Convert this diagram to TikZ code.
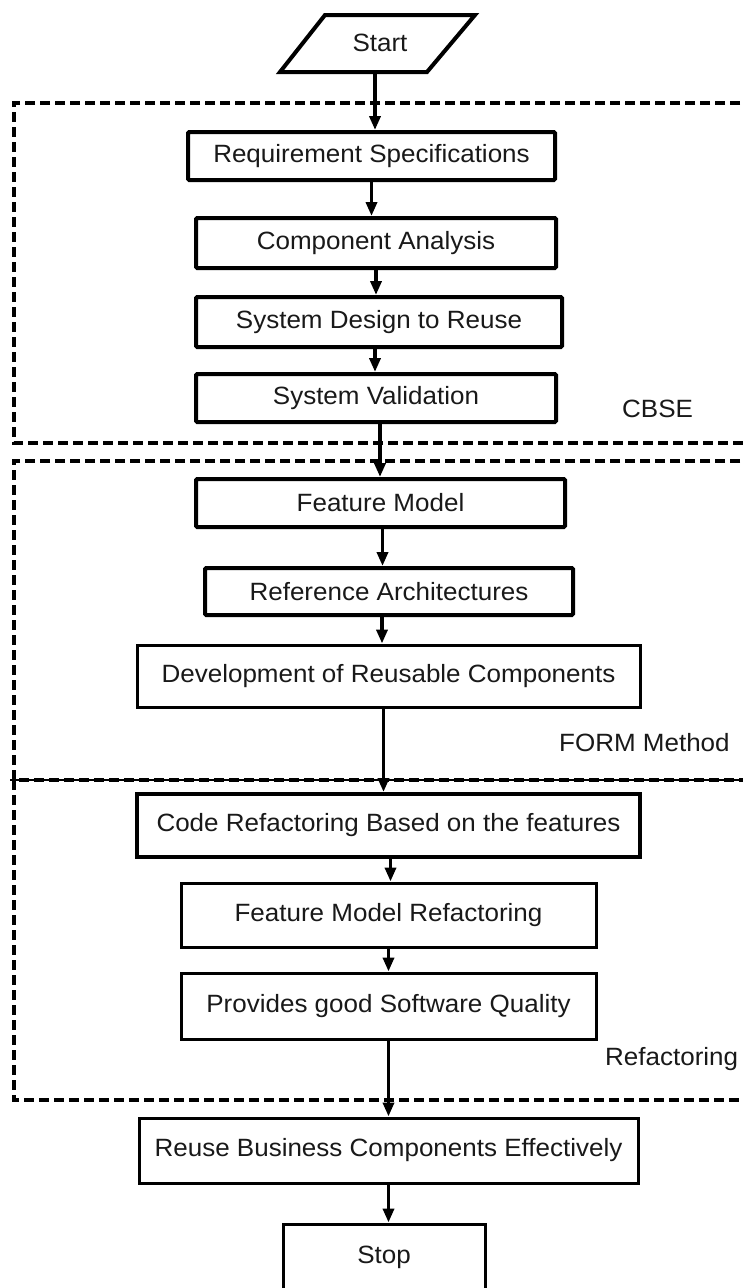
\documentclass[tikz,border=0pt]{standalone}
\usepackage{fontspec}
\setmainfont{Liberation Sans}[FakeStretch=1.04]
\usetikzlibrary{arrows.meta}
\begin{document}
\begin{tikzpicture}[x=1pt,y=-1pt,
  txt/.style={font=\fontsize{25}{29}\selectfont, text=black!90},
  box/.style={draw, line width=3pt, inner sep=0pt, txt},
  hbox/.style={box, line width=4pt, rounded corners=1.2pt},
  arr/.style={line width=3.5pt, -{Triangle[length=14pt,width=11pt]}},
  dashline/.style={line width=3.5pt, dash pattern=on 10pt off 5pt},
  lbl/.style={txt, anchor=west, inner sep=0pt}]
\useasboundingbox (0,0) rectangle (742,1288);

% dashed regions
\draw[dashline] (770,103) -- (14,103) -- (14,443) -- (770,443);
\draw[dashline] (770,461) -- (14,461) -- (14,780) -- (770,780);
\draw[line width=2pt] (10,780) -- (770,780);
\draw[dashline] (14,780) -- (14,1100) -- (770,1100);

% start
\draw[line width=4pt, line join=miter] (280,72) -- (427,72) -- (475,15) -- (325,15) -- cycle;
\node[txt] (start) at (380,43) {Start};
\coordinate (startb) at (375,72);

% boxes
\node[hbox, minimum width=367pt, minimum height=48pt] (req) at (371.5,156) {Requirement Specifications};
\node[hbox, minimum width=360pt, minimum height=50pt] (comp) at (376,243) {Component Analysis};
\node[hbox, minimum width=366pt, minimum height=50pt] (sysd) at (379,322) {System Design to Reuse};
\node[hbox, minimum width=360pt, minimum height=48pt] (sysv) at (376,398) {System Validation};
\node[hbox, minimum width=369pt, minimum height=48pt] (fm) at (380.5,503) {Feature Model};
\node[hbox, minimum width=368pt, minimum height=47pt] (ra) at (389,591.5) {Reference Architectures};
\node[box, minimum width=503pt, minimum height=62pt] (dev) at (388.5,676) {Development of Reusable Components};
\node[box, line width=4pt, minimum width=503pt, minimum height=63pt] (cref) at (388.5,825.5) {Code Refactoring Based on the features};
\node[box, minimum width=415pt, minimum height=64pt] (fmr) at (388.5,915) {Feature Model Refactoring};
\node[box, minimum width=415pt, minimum height=66pt] (prov) at (388.5,1006) {Provides good Software Quality};
\node[box, minimum width=499pt, minimum height=65pt] (reuse) at (388.5,1150.5) {Reuse Business Components Effectively};
\node[box, minimum width=202pt, minimum height=66pt] (stop) at (384,1257) {Stop};

% labels
\node[lbl] (cbse) at (622,409) {CBSE};
\node[lbl] (form) at (559,743) {FORM Method};
\node[lbl] (refl) at (605,1059) {Refactoring};

% connectors
\draw[arr] (startb) -- (startb |- req.north);
\draw[arr] (req.south) -- (req.south |- comp.north);
\draw[arr] (comp.south) -- (comp.south |- sysd.north);
\draw[arr] ([xshift=-4pt]sysd.south) -- ([xshift=-4pt]sysd.south |- sysv.north);
\draw[arr] ([xshift=4pt]sysv.south) -- ([xshift=4pt]sysv.south |- fm.north);
\draw[arr] ([xshift=2pt]fm.south) -- ([xshift=2pt]fm.south |- ra.north);
\draw[arr] ([xshift=-7pt]ra.south) -- ([xshift=-7pt]ra.south |- dev.north);
\draw[arr] ([xshift=-5pt]dev.south) -- ([xshift=-5pt]dev.south |- cref.north);
\draw[arr] ([xshift=2pt]cref.south) -- ([xshift=2pt]cref.south |- fmr.north);
\draw[arr] (fmr.south) -- (fmr.south |- prov.north);
\draw[arr] (prov.south) -- (prov.south |- reuse.north);
\draw[arr] (reuse.south) -- (reuse.south |- stop.north);
\end{tikzpicture}
\end{document}
